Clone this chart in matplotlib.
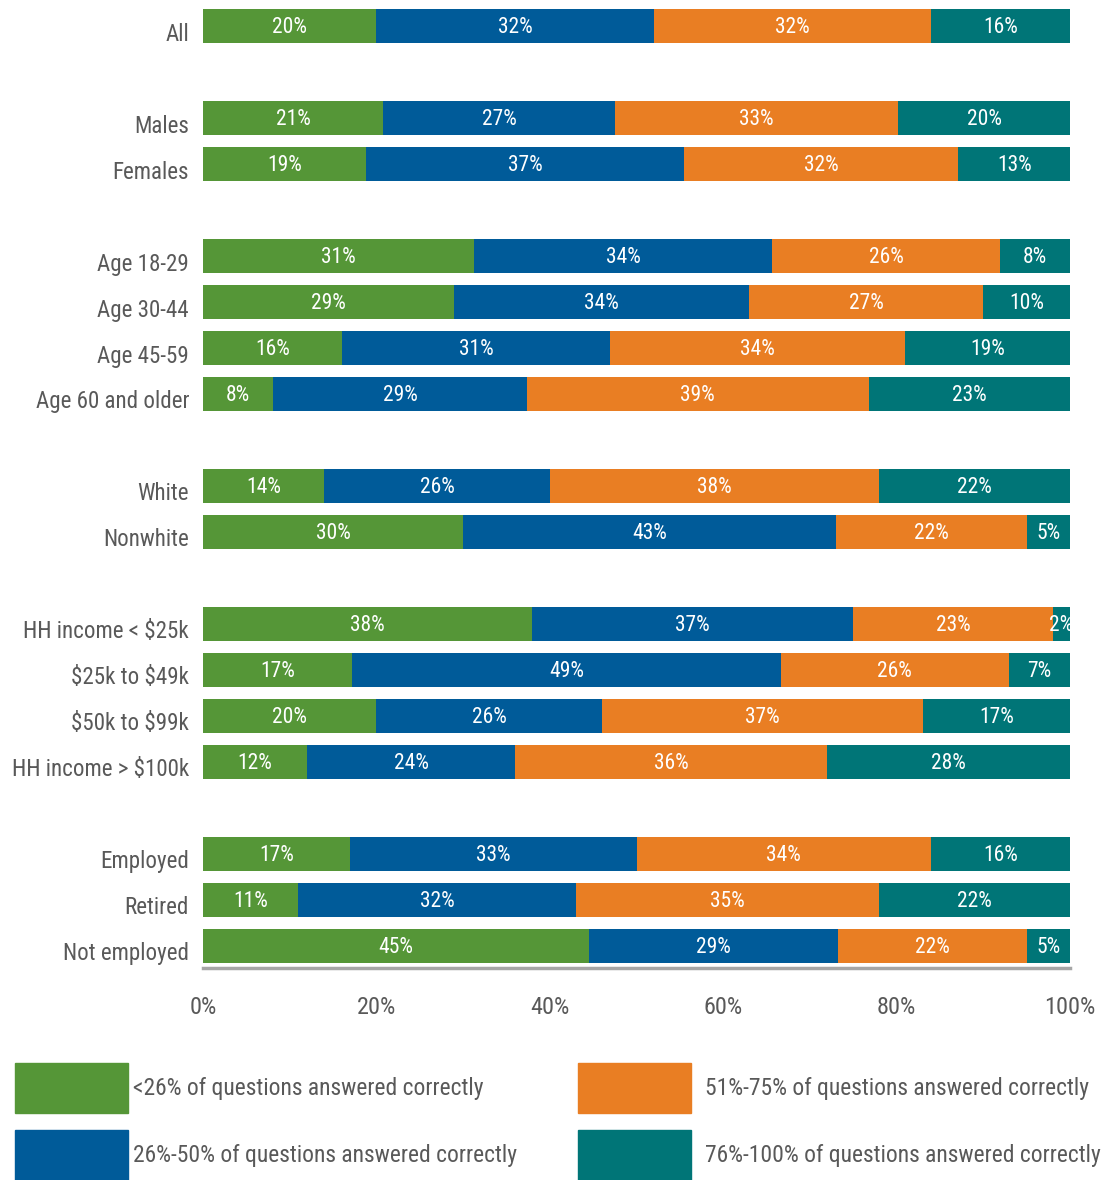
import numpy as np
import matplotlib
matplotlib.use("Agg")
import matplotlib.pyplot as plt
from matplotlib.patches import Patch

plt.rcParams['font.family'] = ['Roboto Condensed', 'Liberation Sans', 'DejaVu Sans']

# data
categories = ["All",
              "Males", "Females",
              "Age 18-29", "Age 30-44", "Age 45-59", "Age 60 and older",
              "White", "Nonwhite",
              "HH income < \\$25k", "\\$25k to \\$49k", "\\$50k to \\$99k", "HH income > \\$100k",
              "Employed", "Retired", "Not employed"]
group_sizes = [1, 2, 4, 2, 4, 3]

low = [20, 21, 19, 31, 29, 16, 8, 14, 30, 38, 17, 20, 12, 17, 11, 45]
mid_low = [32, 27, 37, 34, 34, 31, 29, 26, 43, 37, 49, 26, 24, 33, 32, 29]
mid_high = [32, 33, 32, 26, 27, 34, 39, 38, 22, 23, 26, 37, 36, 34, 35, 22]
high = [16, 20, 13, 8, 10, 19, 23, 22, 5, 2, 7, 17, 28, 16, 22, 5]

series_names = ["<26% of questions answered correctly",
                "26%-50% of questions answered correctly",
                "51%-75% of questions answered correctly",
                "76%-100% of questions answered correctly"]
colors = ["#559637", "#005B99", "#E97E23", "#007577"]
text_gray = "#595959"

# y positions: one blank row between groups
ypos = []
r = 0
for g in group_sizes:
    for i in range(g):
        ypos.append(r)
        r += 1
    r += 1
ypos = np.array(ypos)

vals = np.array([low, mid_low, mid_high, high], dtype=float)
widths = vals / vals.sum(axis=0) * 100  # bars fill to 100%

fig = plt.figure(figsize=(11.2, 11.8), dpi=100)
ax = fig.add_axes([203 / 1120, 1 - 968 / 1180, 867 / 1120, 959 / 1180])

left = np.zeros(len(categories))
for k in range(4):
    ax.barh(ypos, widths[k], left=left, height=0.74, color=colors[k], label=series_names[k])
    for y, l, w, v in zip(ypos, left, widths[k], vals[k]):
        ax.text(l + w / 2, y + 0.03, f"{int(v)}%", ha="center", va="center",
                color="white", fontsize=15.5)
    left += widths[k]

ax.set_xlim(0, 100)
ax.set_ylim(ypos[-1] + 0.48, -0.37)
ax.set_yticks(ypos + 0.12)
ax.set_yticklabels(categories, fontsize=16.6, color=text_gray)
ax.set_xticks([0, 20, 40, 60, 80, 100])
ax.set_xticklabels([f"{t}%" for t in [0, 20, 40, 60, 80, 100]], fontsize=17.5, color=text_gray)
ax.tick_params(axis="both", length=0)
ax.tick_params(axis="x", pad=20)
ax.tick_params(axis="y", pad=10)
for s in ["top", "right", "left"]:
    ax.spines[s].set_visible(False)
ax.spines["bottom"].set_color("#A6A6A6")
ax.spines["bottom"].set_linewidth(2.5)

# legend: two columns, placed separately
leg_kw = dict(loc="upper left", frameon=False, fontsize=16.9, labelcolor=text_gray,
              borderpad=0, borderaxespad=0, handlelength=4.82, handleheight=2.9,
              labelspacing=0.72)
fig.legend([Patch(color=colors[0]), Patch(color=colors[1])], series_names[:2],
           bbox_to_anchor=(15 / 1120, 1 - 1063 / 1180), handletextpad=0.2, **leg_kw)
fig.legend([Patch(color=colors[2]), Patch(color=colors[3])], series_names[2:],
           bbox_to_anchor=(578 / 1120, 1 - 1063 / 1180), handletextpad=0.6, **leg_kw)

fig.savefig("out.png", dpi=100)
